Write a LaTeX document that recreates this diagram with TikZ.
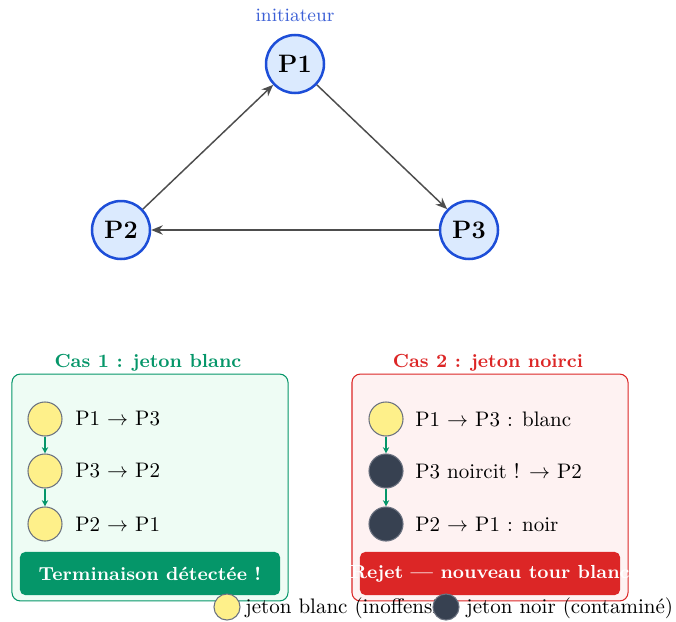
\documentclass[tikz,border=0pt]{standalone}
\usetikzlibrary{arrows.meta}
\definecolor{procfill}{HTML}{DBEAFE}
\definecolor{procline}{HTML}{1D4ED8}
\definecolor{initblue}{HTML}{3B5FD6}
\definecolor{edgegray}{HTML}{4D4D4D}
\definecolor{okgreen}{HTML}{059669}
\definecolor{okfill}{HTML}{EEFCF4}
\definecolor{badred}{HTML}{DC2626}
\definecolor{badfill}{HTML}{FEF2F2}
\definecolor{tokwhite}{HTML}{FEF08A}
\definecolor{tokblack}{HTML}{374151}
\definecolor{tokline}{HTML}{6B7280}
\tikzset{
  proc/.style={circle, draw=procline, fill=procfill, line width=1.2pt,
    minimum size=27.6pt, inner sep=0pt, font=\large\bfseries},
  flow/.style={draw=edgegray, line width=0.7pt, -{Stealth[length=5.5pt,width=4.5pt]}},
  casebox/.style={rectangle, rounded corners=4pt, line width=0.5pt,
    minimum width=131.4pt, minimum height=108pt, inner sep=0pt},
  casetitle/.style={font=\small\bfseries, inner sep=0pt},
  token/.style={circle, draw=tokline, line width=0.5pt, minimum size=16.2pt, inner sep=0pt},
  whitetok/.style={token, fill=tokwhite},
  blacktok/.style={token, fill=tokblack},
  legtok/.style={circle, draw=tokline, line width=0.5pt, minimum size=12.4pt, inner sep=0pt},
  toklabel/.style={anchor=west, inner sep=0pt},
  pass/.style={draw=okgreen, line width=0.5pt, -{Stealth[length=3pt,width=3pt]}},
  banner/.style={rectangle, rounded corners=2.5pt, minimum width=123.8pt,
    minimum height=20.5pt, inner sep=0pt},
  bannertext/.style={inner sep=0pt, text=white, font=\small\bfseries},
  legtext/.style={anchor=base west, inner sep=0pt}
}
\begin{document}
\begin{tikzpicture}[x=0.476pt, y=-0.476pt]
\useasboundingbox (0,0) rectangle (676,621);

% ring of processes
\node[proc] (P1) at (295,64) {P1};
\node[proc] (P2) at (121,230) {P2};
\node[proc] (P3) at (469,230) {P3};
\node[text=initblue, font=\small, inner sep=0pt] (init) at (295,15) {initiateur};
\draw[flow] (P2) -- (P1);
\draw[flow] (P1) -- (P3);
\draw[flow] (P3) -- (P2);

% case 1: white token
\node[casebox, draw=okgreen, fill=okfill] (c1) at (150,487.5) {};
\node[casetitle, text=okgreen] (t1) at (148,363) {Cas 1 : jeton blanc};
\node[whitetok] (a1) at (45,419) {};
\node[whitetok] (a2) at (45,471) {};
\node[whitetok] (a3) at (45,524) {};
\node[toklabel] (la1) at (75,419) {P1 $\rightarrow$ P3};
\node[toklabel] (la2) at (75,471) {P3 $\rightarrow$ P2};
\node[toklabel] (la3) at (75,524) {P2 $\rightarrow$ P1};
\draw[pass] (a1) -- (a2);
\draw[pass] (a2) -- (a3);
\node[banner, fill=okgreen] (r1) at (150,573.5) {};
\node[bannertext] (r1t) at (r1) {Terminaison détectée !};

% case 2: blackened token
\node[casebox, draw=badred, fill=badfill] (c2) at (490,487.5) {};
\node[casetitle, text=badred] (t2) at (488,363) {Cas 2 : jeton noirci};
\node[whitetok] (b1) at (386,419) {};
\node[blacktok] (b2) at (386,471) {};
\node[blacktok] (b3) at (386,524) {};
\node[toklabel] (lb1) at (415,419) {P1 $\rightarrow$ P3 : blanc};
\node[toklabel] (lb2) at (415,471) {P3 noircit ! $\rightarrow$ P2};
\node[toklabel] (lb3) at (415,524) {P2 $\rightarrow$ P1 : noir};
\draw[pass] (b1) -- (b2);
\draw[pass] (b2) -- (b3);
\node[banner, fill=badred] (r2) at (490,573.5) {};
\node[bannertext] (r2t) at (r2) {Rejet --- nouveau tour blanc};

% legend
\node[legtok, fill=tokwhite] (kw) at (227,607) {};
\node[legtext] (kwt) at (245,613) {jeton blanc (inoffensif)};
\node[legtok, fill=tokblack] (kb) at (446,607) {};
\node[legtext] (kbt) at (466,613) {jeton noir (contaminé)};
\end{tikzpicture}
\end{document}
